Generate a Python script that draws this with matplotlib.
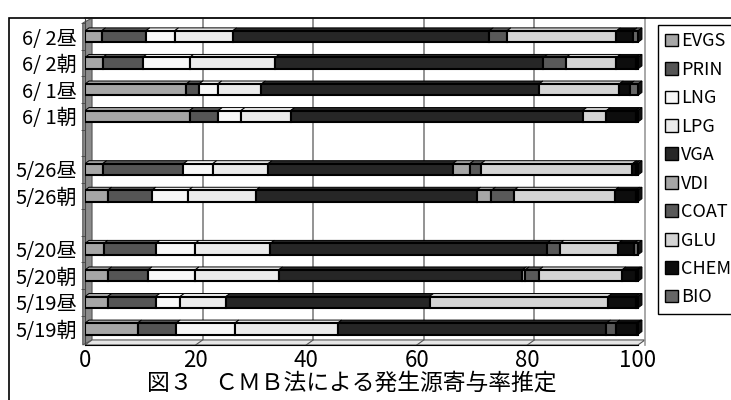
import numpy as np
import matplotlib.pyplot as plt
from matplotlib.patches import Polygon, Rectangle, Patch

plt.rcParams['font.family'] = ['Liberation Sans Narrow', 'Noto Sans CJK JP', 'DejaVu Sans']

# rows from bottom to top, '' = empty slot
rows = ['5/19朝', '5/19昼', '5/20朝', '5/20昼', '', '5/26朝', '5/26昼', '',
        '6/ 1朝', '6/ 1昼', '6/ 2朝', '6/ 2昼']
sources = ['EVGS', 'PRIN', 'LNG', 'LPG', 'VGA', 'VDI', 'COAT', 'GLU', 'CHEM', 'BIO']
colors = ['#a6a6a6', '#555555', '#f7f7f7', '#ebebeb', '#262626',
          '#a6a6a6', '#595959', '#d4d4d4', '#0d0d0d', '#666666']

evgs = [9.5, 4.1, 4.1, 3.4, 4.1, 3.2, 18.9, 18.3, 3.2, 3.0]
prin = [7.0, 8.7, 7.3, 9.4, 8.0, 14.6, 5.2, 2.3, 7.2, 8.0]
lng = [10.6, 4.4, 8.5, 7.1, 6.6, 5.3, 4.1, 3.4, 8.5, 5.2]
lpg = [18.6, 8.3, 15.1, 13.6, 12.2, 10.0, 9.0, 7.9, 15.5, 10.5]
vga = [48.6, 36.8, 44.1, 50.0, 39.9, 33.4, 52.8, 50.2, 48.5, 46.4]
vdi = [0, 0, 0.5, 0, 2.7, 3.1, 0, 0, 0, 0]
coat = [1.7, 0, 2.5, 2.4, 4.1, 2.0, 0, 0, 4.1, 3.2]
glu = [0, 32.3, 15.0, 10.5, 18.2, 27.4, 4.3, 14.5, 9.1, 19.8]
chem = [3.8, 5.0, 2.6, 2.9, 3.8, 0.6, 5.3, 2.0, 3.5, 3.0]
bio = [0.2, 0.4, 0.3, 0.7, 0.4, 0.4, 0.4, 1.4, 0.4, 0.9]
series = [evgs, prin, lng, lpg, vga, vdi, coat, glu, chem, bio]

ypos = np.array([i for i, r in enumerate(rows) if r])

fig = plt.figure(figsize=(7.31, 4.0), dpi=100)
ax = fig.add_axes([85 / 731, 1 - 345 / 400, 560 / 731, 327 / 400])
ax.set_xlim(0, 101.27)
ax.set_ylim(-0.61, 11.70)

# depth of 3d effect (data units)
wdx, wdy = 1.27, 0.19
bdx, bdy = 0.72, 0.113
h = 0.43

# walls / floor
ax.add_patch(Polygon([(-0.4, -0.61), (wdx, -0.61 + wdy), (wdx, 11.70), (-0.4, 11.70 - wdy)],
                     closed=True, fc='#8c8c8c', ec='#555555', lw=0.8, zorder=1, clip_on=False))
ax.add_patch(Polygon([(0, -0.61), (wdx, -0.61 + wdy), (100 + wdx, -0.61 + wdy), (100, -0.61)],
                     closed=True, fc='#e6e6e6', ec='#555555', lw=0.8, zorder=1, clip_on=False))
for v in [20, 40, 60, 80]:
    ax.plot([v + wdx, v + wdx], [-0.61 + wdy, 11.70], color='#808080', lw=1.2, zorder=0.5)
    ax.plot([v, v + wdx], [-0.61, -0.61 + wdy], color='#555555', lw=0.8, zorder=1.5, clip_on=False)

left = np.zeros(len(ypos))
for vals, c in zip(series, colors):
    vals = np.array(vals)
    for y, l, w in zip(ypos, left, vals):
        if w <= 0:
            continue
        ax.barh(y, w, left=l, height=h, color=c, edgecolor='black', lw=1.5, zorder=3)
        top = y + h / 2
        ax.add_patch(Polygon([(l, top), (l + bdx, top + bdy), (l + w + bdx, top + bdy), (l + w, top)],
                             closed=True, fc=c, ec='black', lw=0.7, zorder=2.9))
    left = left + vals

# end caps
for y, l in zip(ypos, left):
    top = y + h / 2
    ax.add_patch(Polygon([(l, top), (l + bdx, top + bdy), (l + bdx, top + bdy - h), (l, top - h)],
                         closed=True, fc='#111111', ec='black', lw=0.7, zorder=2.9))

for s in ['top', 'right']:
    ax.spines[s].set_color('#999999')
    ax.spines[s].set_linewidth(1.2)
ax.spines['left'].set_color('#444444')
ax.spines['bottom'].set_color('black')
ax.spines['bottom'].set_bounds(0, 100)

ax.set_xticks([0, 20, 40, 60, 80, 100])
ax.set_xticklabels(['0', '20', '40', '60', '80', '100'], fontsize=16)
ax.tick_params(axis='x', length=0, pad=3)
ax.set_yticks(np.arange(len(rows)))
ax.set_yticklabels(rows, fontsize=14.5)
ax.tick_params(axis='y', length=0, pad=6)
ax.set_yticks(np.arange(len(rows)) + 0.5, minor=True)
ax.tick_params(axis='y', which='minor', length=3, direction='out', color='#444444')

handles = [Patch(fc=c, ec='black', lw=1) for c in colors]
leg = fig.legend(handles, sources, loc='upper left', bbox_to_anchor=(658 / 731, 1 - 25 / 400),
                 borderaxespad=0, fontsize=13, handlelength=0.7, handleheight=0.7,
                 handletextpad=0.2, labelspacing=0.58, fancybox=False, framealpha=1,
                 edgecolor='black', borderpad=0.4)
leg.get_frame().set_linewidth(1)

fig.text(352 / 731, 1 - 383 / 400, '図３　ＣＭＢ法による発生源寄与率推定',
         ha='center', va='center', fontsize=16.4, family=['Noto Sans CJK JP', 'DejaVu Sans'])

fig.patches.append(Rectangle((9 / 731, -0.02), 1.0, 0.995 - 0.02, transform=fig.transFigure,
                             fill=False, ec='black', lw=1.2))

fig.savefig('out.png', dpi=100)
